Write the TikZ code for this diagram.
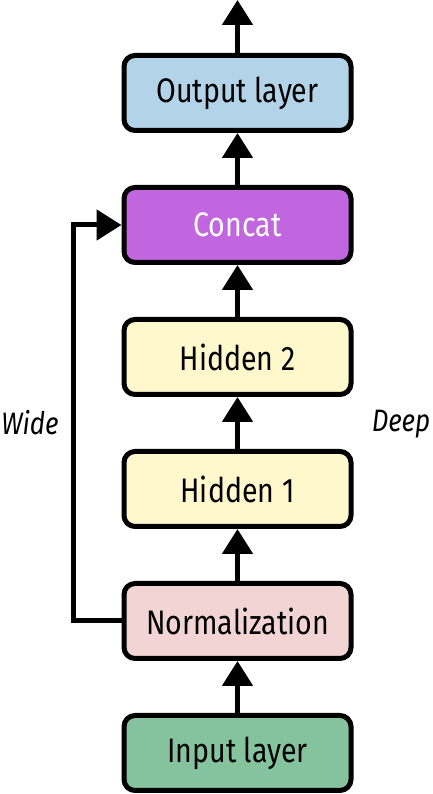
\documentclass[tikz,border=0pt]{standalone}
\usepackage{fontspec}
\setmainfont{Fira Sans}[FakeStretch=0.84]
\usetikzlibrary{arrows.meta}
\definecolor{outc}{HTML}{B3D3E8}
\definecolor{catc}{HTML}{C266DF}
\definecolor{hidc}{HTML}{FFF8CC}
\definecolor{nrmc}{HTML}{F2D4D4}
\definecolor{inpc}{HTML}{85C29E}
\tikzset{
  layer/.style={draw=black, line width=5pt, rounded corners=11pt, minimum width=227pt, minimum height=75pt, inner sep=0pt, font=\fontsize{34}{38}\selectfont},
  conn/.style={line width=5pt, -{Triangle[length=25pt,width=30pt]}},
  side/.style={font=\fontsize{31}{34}\selectfont\itshape}
}
\begin{document}
\begin{tikzpicture}[x=1pt,y=1pt]
\useasboundingbox (0,0) rectangle (432,794);
\node[layer, fill=outc] (out) at (237.5,701) {Output layer};
\node[layer, fill=catc, text=white] (cat) at (237.5,569) {Concat};
\node[layer, fill=hidc] (h2) at (237.5,437) {Hidden 2};
\node[layer, fill=hidc] (h1) at (237.5,305) {Hidden 1};
\node[layer, fill=nrmc] (nrm) at (237.5,173) {Normalization};
\node[layer, fill=inpc] (inp) at (237.5,41) {Input layer};
\coordinate (top) at (237.5,794);
\coordinate (wide) at (73,173);
\draw[conn] (inp) -- (nrm);
\draw[conn] (nrm) -- (h1);
\draw[conn] (h1) -- (h2);
\draw[conn] (h2) -- (cat);
\draw[conn] (cat) -- (out);
\draw[conn] (out) -- (top);
\draw[conn] (nrm.west) -- (wide) |- (cat.west);
\node[side] (wl) at (30,371) {Wide};
\node[side] (dl) at (401,370) {Deep};
\end{tikzpicture}
\end{document}
